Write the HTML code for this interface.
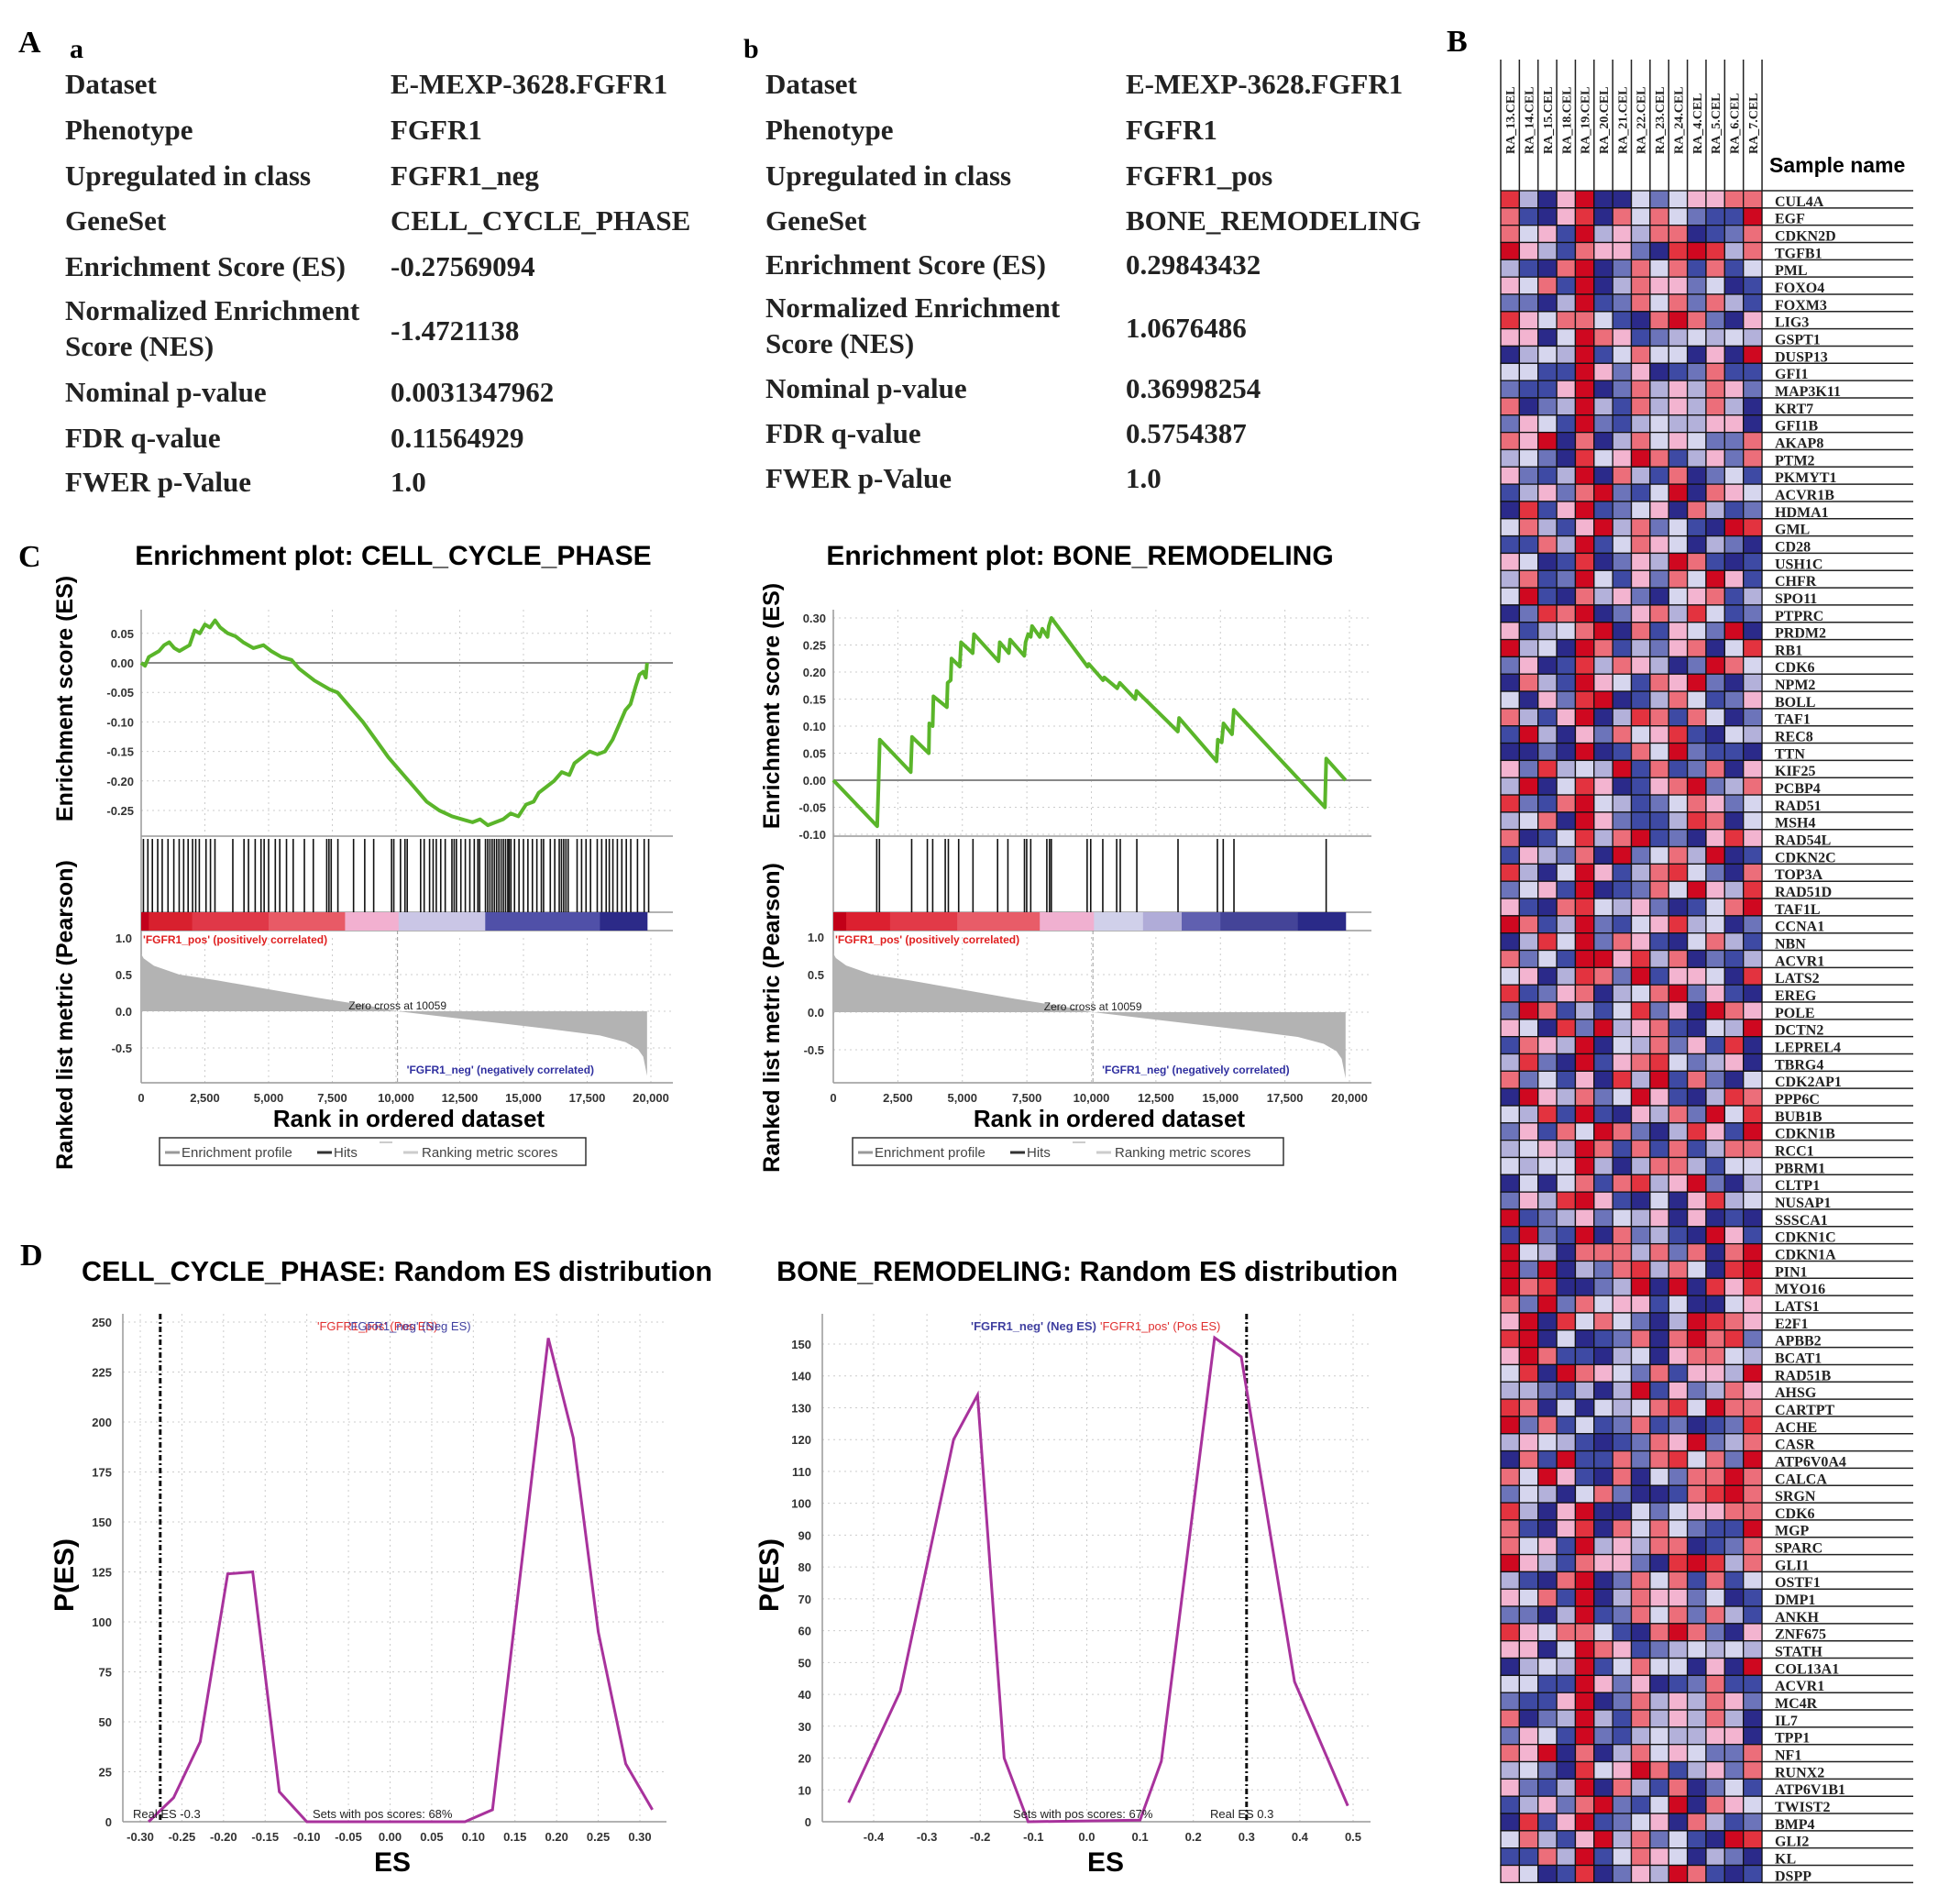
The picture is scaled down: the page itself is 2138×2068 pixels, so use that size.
<!DOCTYPE html>
<html><head><meta charset="utf-8"><style>
html,body{margin:0;padding:0;background:#fff;}
svg{display:block;}
.ser{font-family:"Liberation Serif",serif;font-weight:bold;}
.sans{font-family:"Liberation Sans",sans-serif;}
</style></head><body>
<svg id="fig" xmlns="http://www.w3.org/2000/svg" width="2138" height="2068" viewBox="0 0 2138 2068">
<g class="ser" font-size="34">
<text x="20" y="57">A</text>
<text x="76" y="63" font-size="30">a</text>
<text x="811" y="63" font-size="30">b</text>
<text x="1578" y="56">B</text>
<text x="20" y="618">C</text>
<text x="22" y="1380">D</text>
</g>
<g class="ser" font-size="31" fill="#222">
<text x="71" y="102">Dataset</text><text x="426" y="102">E-MEXP-3628.FGFR1</text>
<text x="71" y="152">Phenotype</text><text x="426" y="152">FGFR1</text>
<text x="71" y="202">Upregulated in class</text><text x="426" y="202">FGFR1_neg</text>
<text x="71" y="251">GeneSet</text><text x="426" y="251">CELL_CYCLE_PHASE</text>
<text x="71" y="301">Enrichment Score (ES)</text><text x="426" y="301">-0.27569094</text>
<text x="71" y="349">Normalized Enrichment</text><text x="71" y="388">Score (NES)</text><text x="426" y="371">-1.4721138</text>
<text x="71" y="438">Nominal p-value</text><text x="426" y="438">0.0031347962</text>
<text x="71" y="488">FDR q-value</text><text x="426" y="488">0.11564929</text>
<text x="71" y="536">FWER p-Value</text><text x="426" y="536">1.0</text>
</g>
<g class="ser" font-size="31" fill="#222">
<text x="835" y="102">Dataset</text><text x="1228" y="102">E-MEXP-3628.FGFR1</text>
<text x="835" y="152">Phenotype</text><text x="1228" y="152">FGFR1</text>
<text x="835" y="202">Upregulated in class</text><text x="1228" y="202">FGFR1_pos</text>
<text x="835" y="251">GeneSet</text><text x="1228" y="251">BONE_REMODELING</text>
<text x="835" y="299">Enrichment Score (ES)</text><text x="1228" y="299">0.29843432</text>
<text x="835" y="346">Normalized Enrichment</text><text x="835" y="385">Score (NES)</text><text x="1228" y="368">1.0676486</text>
<text x="835" y="434">Nominal p-value</text><text x="1228" y="434">0.36998254</text>
<text x="835" y="483">FDR q-value</text><text x="1228" y="483">0.5754387</text>
<text x="835" y="532">FWER p-Value</text><text x="1228" y="532">1.0</text>
</g>
<g id="charts"></g>
<g id="heat"></g>
</svg>
<script>
const NS="http://www.w3.org/2000/svg";
const heatSamples=["RA_13.CEL","RA_14.CEL","RA_15.CEL","RA_18.CEL","RA_19.CEL","RA_20.CEL","RA_21.CEL","RA_22.CEL","RA_23.CEL","RA_24.CEL","RA_4.CEL","RA_5.CEL","RA_6.CEL","RA_7.CEL"];
const heatGenes=["CUL4A","EGF","CDKN2D","TGFB1","PML","FOXO4","FOXM3","LIG3","GSPT1","DUSP13","GFI1","MAP3K11","KRT7","GFI1B","AKAP8","PTM2","PKMYT1","ACVR1B","HDMA1","GML","CD28","USH1C","CHFR","SPO11","PTPRC","PRDM2","RB1","CDK6","NPM2","BOLL","TAF1","REC8","TTN","KIF25","PCBP4","RAD51","MSH4","RAD54L","CDKN2C","TOP3A","RAD51D","TAF1L","CCNA1","NBN","ACVR1","LATS2","EREG","POLE","DCTN2","LEPREL4","TBRG4","CDK2AP1","PPP6C","BUB1B","CDKN1B","RCC1","PBRM1","CLTP1","NUSAP1","SSSCA1","CDKN1C","CDKN1A","PIN1","MYO16","LATS1","E2F1","APBB2","BCAT1","RAD51B","AHSG","CARTPT","ACHE","CASR","ATP6V0A4","CALCA","SRGN","CDK6","MGP","SPARC","GLI1","OSTF1","DMP1","ANKH","ZNF675","STATH","COL13A1","ACVR1","MC4R","IL7","TPP1","NF1","RUNX2","ATP6V1B1","TWIST2","BMP4","GLI2","KL","DSPP"];
const heatValues=[
"73058004245566","61057064642118","64518353660126","85316552078736","31068026461614","54618036552401","22038126462631","75466410686205","55048651234343","03438146440508","44118525012611","21158026353652","60238316353630","25418213433550","65806036454226",
"34207458613526","52138063160241","13526821480654","07158124506312","46315836241087","11638146540320","54017025386101","36128415264851","48106352045613","02768025637412","51346806154280","83408613256047","25017365302864","06318541658203","40527801364125",
"63158037616402","18305264571043","00208016482110","52734381612605","38047501568236","72168431246524","34608521137604","60147368120575","15326082463801","73048513674206",
"24518012648537","51067435201468","86138214573402","03748265104631","62418857360213","45037628155407","71256034682510","28613147250865","54072835610438","16538043625170",
"37208156742350","62415073816204","08536248510376","43718105362847","25164862037518",
"34538616161366","43448303663144","04046167358203","25378510405734","81235243505010","18218062310851","84306663626068","82803267364078","86700238080757","62826455140045","58074642038765","78040126068672","58611034056643","47086542615538",
"33213038152365","76040434674866",
"82614126120127","35431012658236","06181162674628","64851060426686","24304620016786"];
const heatPalette=["#2b2a8a","#3e4aa4","#6c74ba","#b3b1da","#d6d6ee","#f3b4d0","#ec6e7a","#e3333f","#cf0820"];
const ccEsRank=[0,150,300,500,700,900,1100,1300,1500,1700,1900,2100,2300,2500,2700,2900,3100,3400,3700,4000,4400,4800,5100,5500,5900,6200,6800,7400,7700,8200,8700,9200,9700,10200,10700,11200,11700,12200,12600,13000,13300,13600,13900,14200,14500,14800,15100,15400,15600,15900,16200,16500,16800,17000,17300,17600,17900,18200,18500,18800,19000,19200,19400,19550,19700,19800,19850];
const ccEsValue=[0,-0.005,0.01,0.015,0.02,0.03,0.035,0.025,0.02,0.025,0.03,0.055,0.05,0.065,0.06,0.072,0.06,0.05,0.045,0.035,0.025,0.03,0.02,0.01,0.005,-0.01,-0.03,-0.045,-0.05,-0.075,-0.1,-0.13,-0.16,-0.185,-0.21,-0.235,-0.25,-0.26,-0.265,-0.27,-0.265,-0.275,-0.27,-0.265,-0.255,-0.26,-0.24,-0.235,-0.22,-0.21,-0.2,-0.185,-0.19,-0.17,-0.16,-0.15,-0.155,-0.15,-0.13,-0.1,-0.08,-0.07,-0.04,-0.02,-0.015,-0.025,0];
const ccHits=[88,263,439,649,825,1053,1281,1491,1667,1842,2017,2140,2281,2544,2719,2895,3596,4035,4211,4474,4702,4825,5000,5263,5439,5702,5965,6404,6754,7281,7368,7456,7719,8333,8772,9123,9825,9912,10175,10351,10439,10965,11105,11316,11456,11579,11754,11930,12193,12281,12368,12544,12719,12895,13070,13211,13281,13509,13596,13684,13772,13860,13947,14035,14123,14211,14298,14386,14439,14509,14649,14825,15000,15175,15351,15526,15702,15789,16053,16228,16404,16491,16579,16667,16754,17105,17281,17456,17632,17895,18070,18246,18368,18509,18684,18860,19035,19211,19474,19737,19912];
const brEsRank=[0,1700,1750,1800,3000,3050,3700,3720,3850,3880,4400,4430,4550,4580,4900,4950,5400,5450,6400,6450,6800,6850,7400,7450,7550,7650,7700,8000,8100,8300,8350,8450,9850,9900,10450,10500,11000,11100,11700,11750,13350,13400,14850,14900,15050,15120,15450,15520,19050,19100,19850];
const brEsValue=[0,-0.085,-0.01,0.075,0.015,0.08,0.05,0.105,0.1,0.155,0.135,0.18,0.185,0.225,0.21,0.255,0.235,0.27,0.22,0.255,0.235,0.26,0.23,0.255,0.27,0.265,0.285,0.265,0.28,0.265,0.285,0.3,0.21,0.215,0.185,0.19,0.17,0.18,0.15,0.165,0.09,0.115,0.035,0.075,0.07,0.105,0.085,0.13,-0.05,0.04,0];
const brHits=[1683,1787,3036,3643,3851,4337,4458,4857,5412,6366,6765,7407,7493,7650,8274,8378,8447,9835,9974,10442,10980,11119,11761,13357,14883,15109,15525,19098];
const metricRank=[0,100,500,1500,3000,5000,7000,9000,10059,12000,14000,16000,18000,19000,19500,19700,19850];
const metricValue=[0.78,0.72,0.62,0.5,0.42,0.3,0.18,0.07,0,-0.08,-0.16,-0.24,-0.33,-0.42,-0.52,-0.62,-0.88];
const ccBarStarts=[0,300,2000,5000,8000,10100,13500,18000];
const ccBarColors=["#c2001c","#d8202e","#e03848","#e85a66","#f2b0d0","#cac6e6","#5050a8","#2c2a88"];
const brBarStarts=[0,500,2200,4800,8000,10100,12000,13500,15000,18000];
const brBarColors=["#c20018","#dc2030","#e23a48","#e85c68","#f0b0d0","#d0d0ea","#b0acd8","#6060b0","#444498","#2a2a88"];
const esTicksCC=[0.05,0,-0.05,-0.1,-0.15,-0.2,-0.25];
const esTicksBR=[0.3,0.25,0.2,0.15,0.1,0.05,0,-0.05,-0.1];
const metricTicks=[1.0,0.5,0.0,-0.5];
const rankTicks=[0,2500,5000,7500,10000,12500,15000,17500,20000];
const ccDistES=[-0.29,-0.26,-0.228,-0.195,-0.165,-0.133,-0.1,0.09,0.123,0.19,0.22,0.25,0.283,0.315];
const ccDistP=[0,12,40,124,125,15,0,0,6,242,192,95,29,6];
const brDistES=[-0.447,-0.35,-0.25,-0.205,-0.155,-0.11,0.1,0.14,0.24,0.29,0.39,0.49];
const brDistP=[6,41,120,134,20,0,0.5,19,152,146,44,5];
const ccDistXTicks=[-0.3,-0.25,-0.2,-0.15,-0.1,-0.05,0,0.05,0.1,0.15,0.2,0.25,0.3];
const ccDistYTicks=[0,25,50,75,100,125,150,175,200,225,250];
const brDistXTicks=[-0.4,-0.3,-0.2,-0.1,0,0.1,0.2,0.3,0.4,0.5];
const brDistYTicks=[0,10,20,30,40,50,60,70,80,90,100,110,120,130,140,150];

function el(tag,attrs,parent,txt){const e=document.createElementNS(NS,tag);for(const k in attrs)e.setAttribute(k,attrs[k]);if(txt!==undefined)e.textContent=txt;(parent||document.getElementById('charts')).appendChild(e);return e;}
function fmt2(v){return (v<0?"-":"")+Math.abs(v).toFixed(2);}
function fmtRank(v){return v.toLocaleString('en-US');}

function enrichment(cfg){
  const g=el('g',{});
  
  
  const X=r=>cfg.x0+r/20000*cfg.xw;
  const Y=v=>cfg.y0-v*cfg.ys;
  const M=v=>cfg.m0-v*cfg.ms;
  const t=el('text',{x:cfg.tx,y:cfg.ty,'text-anchor':'middle','font-size':30,'font-weight':'bold',class:'sans'},g,cfg.title);
  
  
  const L=cfg.left,R=cfg.right;
  for(const r of rankTicks){el('line',{x1:X(r),x2:X(r),y1:cfg.top,y2:cfg.esBot,stroke:'#ccc','stroke-dasharray':'2 4'},g);el('line',{x1:X(r),x2:X(r),y1:cfg.m0-cfg.ms*1.0,y2:cfg.bot,stroke:'#ccc','stroke-dasharray':'2 4'},g);}
  for(const v of cfg.esTicks){el('line',{x1:L,x2:R,y1:Y(v),y2:Y(v),stroke:v===0?'#888':'#ccc','stroke-width':v===0?2:1,'stroke-dasharray':v===0?'':'2 4'},g);
    el('text',{x:L-8,y:Y(v)+5,'text-anchor':'end','font-size':13,'font-weight':'bold',fill:'#333',class:'sans'},g,fmt2(v));}
  for(const v of metricTicks){if(v!==1)el('line',{x1:L,x2:R,y1:M(v),y2:M(v),stroke:'#ccc','stroke-dasharray':'2 4'},g);
    el('text',{x:L-10,y:M(v)+5,'text-anchor':'end','font-size':13,'font-weight':'bold',fill:'#333',class:'sans'},g,v.toFixed(1));}
  el('line',{x1:L,x2:L,y1:cfg.top,y2:cfg.bot,stroke:'#999','stroke-width':1.5},g);
  el('line',{x1:L,x2:R,y1:cfg.bot,y2:cfg.bot,stroke:'#999','stroke-width':1.5},g);
  el('line',{x1:L,x2:R,y1:cfg.esBot,y2:cfg.esBot,stroke:'#999','stroke-width':1.5},g);
  el('line',{x1:L,x2:R,y1:cfg.barTop,y2:cfg.barTop,stroke:'#999','stroke-width':1.5},g);
  el('line',{x1:L,x2:R,y1:cfg.barTop+20,y2:cfg.barTop+20,stroke:'#999','stroke-width':1.5},g);
  for(let i=0;i<cfg.barStarts.length;i++){const s=cfg.barStarts[i],e=i+1<cfg.barStarts.length?cfg.barStarts[i+1]:19850;
    const b=el('rect',{x:X(s),y:cfg.barTop,width:X(e)-X(s)+0.5,height:20,fill:cfg.barColors[i]},g);
    
    }
  for(const h of cfg.hits){const ln=el('line',{x1:X(h),x2:X(h),y1:cfg.esBot+3,y2:cfg.barTop,stroke:'#111','stroke-width':1.6},g);
    
    }
  let d='M'+X(metricRank[0])+','+M(0);
  for(let i=0;i<metricRank.length;i++)d+=' L'+X(metricRank[i])+','+M(metricValue[i]);
  d+=' L'+X(metricRank[metricRank.length-1])+','+M(0)+'Z';
  const ar=el('path',{d:d,fill:'#b3b3b3'},g);
  
  
  el('line',{x1:X(10059),x2:X(10059),y1:cfg.barTop+20,y2:cfg.bot,stroke:'#999','stroke-dasharray':'4 3'},g);
  el('text',{x:X(10059),y:M(0)-2,'text-anchor':'middle','font-size':12,fill:'#222',class:'sans'},g,'Zero cross at 10059');
  el('text',{x:L+2,y:cfg.barTop+34,'font-size':12,'font-weight':'bold',fill:'#e02020',class:'sans'},g,"'FGFR1_pos' (positively correlated)");
  el('text',{x:X(10059)+10,y:cfg.bot-10,'font-size':12,'font-weight':'bold',fill:'#3030a0',class:'sans'},g,"'FGFR1_neg' (negatively correlated)");
  let pts=cfg.esRank.map((r,i)=>X(r)+','+Y(cfg.esValue[i])).join(' ');
  const pl=el('polyline',{points:pts,fill:'none',stroke:'#5ab52a','stroke-width':4,'stroke-linejoin':'round'},g);
  
  
  for(const r of rankTicks)el('text',{x:X(r),y:1202,'text-anchor':'middle','font-size':13,'font-weight':'bold',fill:'#333',class:'sans'},g,fmtRank(r));
  const xt=el('text',{x:cfg.xtx,y:1229,'text-anchor':'middle','font-size':26,'font-weight':'bold',class:'sans'},g,'Rank in ordered dataset');
  
  
  const y1=el('text',{transform:`translate(${cfg.ylx},${cfg.yl1}) rotate(-90)`,'text-anchor':'middle','font-size':25,'font-weight':'bold',class:'sans'},g,'Enrichment score (ES)');
  
  
  const y2=el('text',{transform:`translate(${cfg.ylx},${cfg.yl2}) rotate(-90)`,'text-anchor':'middle','font-size':25,'font-weight':'bold',class:'sans'},g,'Ranked list metric (Pearson)');
  
  
  const lg=el('g',{},g);
  
  
  el('rect',{x:cfg.lgx,y:1241,width:cfg.lgw,height:30,fill:'#fff',stroke:'#333','stroke-width':1.5},lg);
  const lx=cfg.lgx;
  el('line',{x1:lx+6,x2:lx+22,y1:1257,y2:1257,stroke:'#999','stroke-width':3},lg);
  el('text',{x:lx+24,y:1262,'font-size':15,fill:'#444',class:'sans'},lg,'Enrichment profile');
  el('line',{x1:lx+172,x2:lx+188,y1:1257,y2:1257,stroke:'#333','stroke-width':3},lg);
  el('text',{x:lx+190,y:1262,'font-size':15,fill:'#444',class:'sans'},lg,'Hits');
  el('line',{x1:lx+240,x2:lx+254,y1:1246,y2:1246,stroke:'#ccc','stroke-width':2},lg);
  el('line',{x1:lx+266,x2:lx+282,y1:1257,y2:1257,stroke:'#ccc','stroke-width':3},lg);
  el('text',{x:lx+286,y:1262,'font-size':15,fill:'#444',class:'sans'},lg,'Ranking metric scores');
}
enrichment({name:'enrichment-plot-cell-cycle',title:'Enrichment plot: CELL_CYCLE_PHASE',tx:429,ty:616,x0:154,xw:556,left:154,right:734,y0:723,ys:644,m0:1103,ms:80,top:665,esBot:912,barTop:995,bot:1181,
 esTicks:esTicksCC,esRank:ccEsRank,esValue:ccEsValue,hits:ccHits,barStarts:ccBarStarts,barColors:ccBarColors,xtx:446,ylx:79,yl1:762,yl2:1107,lgx:174,lgw:465});
enrichment({name:'enrichment-plot-bone-remodeling',title:'Enrichment plot: BONE_REMODELING',tx:1178,ty:616,x0:909,xw:563,left:909,right:1496,y0:851,ys:590,m0:1104,ms:82,top:665,esBot:912,barTop:995,bot:1181,
 esTicks:esTicksBR,esRank:brEsRank,esValue:brEsValue,hits:brHits,barStarts:brBarStarts,barColors:brBarColors,xtx:1210,ylx:850,yl1:770,yl2:1110,lgx:930,lgw:470});

function dist(cfg){
  const g=el('g',{});
  
  
  const X=v=>cfg.xa+(v-cfg.xv0)/(cfg.xv1-cfg.xv0)*(cfg.xb-cfg.xa);
  const Y=v=>1987-v/cfg.ymax*cfg.yh;
  const t=el('text',{x:cfg.tx,y:1397,'text-anchor':'middle','font-size':30.5,'font-weight':'bold',class:'sans'},g,cfg.title);
  
  
  for(const v of cfg.xt){el('line',{x1:X(v),x2:X(v),y1:1433,y2:1987,stroke:'#ccc','stroke-dasharray':'2 4'},g);
    el('text',{x:X(v),y:2008,'text-anchor':'middle','font-size':13,'font-weight':'bold',fill:'#333',class:'sans'},g,cfg.fx(v));}
  for(const v of cfg.yt){if(v>0)el('line',{x1:cfg.left,x2:cfg.right,y1:Y(v),y2:Y(v),stroke:'#ccc','stroke-dasharray':'2 4'},g);
    el('text',{x:cfg.left-12,y:Y(v)+5,'text-anchor':'end','font-size':13,'font-weight':'bold',fill:'#333',class:'sans'},g,String(v));}
  el('line',{x1:cfg.left,x2:cfg.left,y1:1433,y2:1987,stroke:'#999','stroke-width':1.5},g);
  el('line',{x1:cfg.left,x2:cfg.right,y1:1987,y2:1987,stroke:'#999','stroke-width':1.5},g);
  el('line',{x1:X(cfg.real),x2:X(cfg.real),y1:1433,y2:1987,stroke:'#111','stroke-width':3,'stroke-dasharray':'6 3 2 3'},g);
  const pl=el('polyline',{points:cfg.es.map((v,i)=>X(v)+','+Y(cfg.p[i])).join(' '),fill:'none',stroke:'#a8329c','stroke-width':3},g);
  
  
  for(const tx of cfg.texts)el('text',{x:tx[0],y:tx[1],'font-size':13,'font-weight':tx[3]||'normal',fill:tx[2],class:'sans'},g,tx[4]);
  const xt=el('text',{x:cfg.xtx,y:2041,'text-anchor':'middle','font-size':30,'font-weight':'bold',class:'sans'},g,'ES');
  
  
  const yt=el('text',{transform:`translate(${cfg.ylx},1718) rotate(-90)`,'text-anchor':'middle','font-size':30,'font-weight':'bold',class:'sans'},g,'P(ES)');
  
  
}
dist({name:'random-es-cell-cycle',title:'CELL_CYCLE_PHASE: Random ES distribution',tx:433,xa:153,xb:698,xv0:-0.3,xv1:0.3,ymax:250,yh:545,left:134,right:727,
 xt:ccDistXTicks,yt:ccDistYTicks,fx:v=>fmt2(v),real:-0.276,es:ccDistES,p:ccDistP,xtx:428,ylx:80,
 texts:[[145,1983,'#222','normal','Real ES -0.3'],[341,1983,'#222','normal','Sets with pos scores: 68%'],[346,1451,'#e03030','normal',"'FGFR1_pos' (Pos ES)"],[380,1451,'#4040a0','normal',"'FGFR1_neg' (Neg ES)"]]});
dist({name:'random-es-bone-remodeling',title:'BONE_REMODELING: Random ES distribution',tx:1186,xa:953,xb:1476,xv0:-0.4,xv1:0.5,ymax:150,yh:521,left:897,right:1495,
 xt:brDistXTicks,yt:brDistYTicks,fx:v=>v.toFixed(1),real:0.3,es:brDistES,p:brDistP,xtx:1206,ylx:849,
 texts:[[1059,1451,'#4040a0','bold',"'FGFR1_neg' (Neg ES)"],[1200,1451,'#e03030','normal',"'FGFR1_pos' (Pos ES)"],[1105,1983,'#222','normal','Sets with pos scores: 67%'],[1320,1983,'#222','normal','Real ES 0.3']]});

(function(){
  const H=document.getElementById('heat');
  const x0=1637,cw=20.36,y0=208,rh=18.83,nC=heatSamples.length,nR=heatGenes.length;
  for(let r=0;r<nR;r++){const row=heatValues[r]||heatValues[r%heatValues.length];
    for(let c=0;c<nC;c++){const cell=el('rect',{x:x0+c*cw,y:y0+r*rh,width:cw,height:rh,fill:heatPalette[+row[c]],stroke:'#111','stroke-width':1.3},H);
      
      }
    el('line',{x1:x0+nC*cw,x2:2087,y1:y0+(r+1)*rh,y2:y0+(r+1)*rh,stroke:'#222','stroke-width':1.5},H);
    const lb=el('text',{x:1936,y:y0+(r+1)*rh-2,'font-size':16,fill:'#222',class:'ser','font-weight':'normal'},H,heatGenes[r]);
    
    }
  el('line',{x1:x0+nC*cw,x2:2087,y1:y0,y2:y0,stroke:'#222','stroke-width':1.5},H);
  for(let c=0;c<=nC;c++)el('line',{x1:x0+c*cw,x2:x0+c*cw,y1:65,y2:y0,stroke:'#222','stroke-width':1.5},H);
  for(let c=0;c<nC;c++){const s=el('text',{transform:`translate(${x0+c*cw+cw/2+5},168) rotate(-90)`,'font-size':14,fill:'#222',class:'ser','font-weight':'normal'},H,heatSamples[c]);
    
    }
  const sn=el('text',{x:1930,y:188,'font-size':23,'font-weight':'bold',class:'sans'},H,'Sample name');
  
  
})();
</script>
</body></html>
